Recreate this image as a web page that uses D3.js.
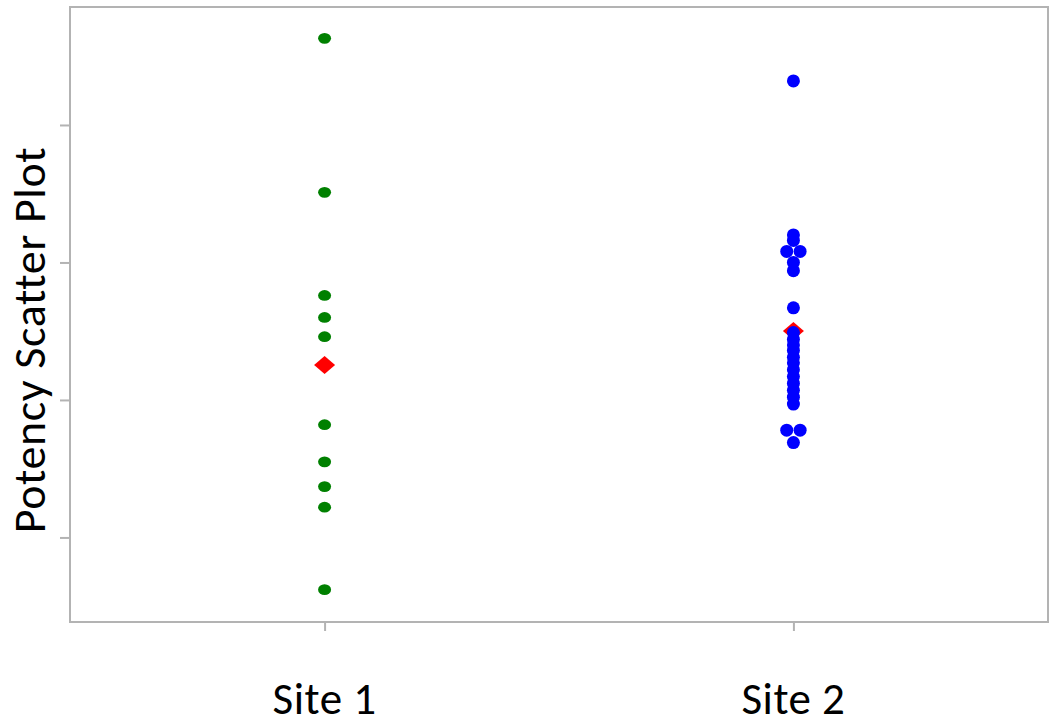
<!DOCTYPE html>
<html>
<head>
<meta charset="utf-8">
<script src="https://cdn.jsdelivr.net/npm/d3@7"></script>
<style>
  body { margin: 0; background: #fff; }
  text { font-family: Carlito, Calibri, Lato, sans-serif; fill: #000; }
</style>
</head>
<body>
<script>
// data (y values are on an unlabeled scale)
var sites = ["Site 1", "Site 2"];
var site1Values = [96.3, 85.1, 77.6, 76.0, 74.6, 68.2, 65.5, 63.7, 62.2, 56.2];
var site2Values = [93.2, 82.0, 81.6, 80.8, 80.8, 80.0, 79.4, 76.7,
                   74.9, 74.4, 74.0, 73.6, 73.1, 72.7, 72.2, 71.7, 71.2, 70.7, 70.2, 69.7,
                   67.8, 67.8, 66.9];
var yTicks = [60, 70, 80, 90];
var siteColors = ["#008000", "#0000ff"];

var width = 1064, height = 728;
var plotLeft = 70, plotRight = 1048, plotTop = 7, plotBottom = 622;

var svg = d3.select("body").append("svg")
            .attr("width", width)
            .attr("height", height);

var x = d3.scalePoint().domain(sites).range([plotLeft, plotRight]).padding(0.543);
var y = d3.scaleLinear().domain([53.85, 98.58]).range([plotBottom, plotTop]);

// frame
svg.append("rect")
    .attr("x", plotLeft).attr("y", plotTop)
    .attr("width", plotRight - plotLeft).attr("height", plotBottom - plotTop)
    .attr("fill", "none")
    .attr("stroke", "#b3b3b3")
    .attr("stroke-width", 2);

// axes, ticks only
var yAxis = svg.append("g")
    .attr("transform", "translate(" + plotLeft + ",0)")
    .call(d3.axisLeft(y).tickValues(yTicks).tickFormat("").tickSize(10));
var xAxis = svg.append("g")
    .attr("transform", "translate(0," + plotBottom + ")")
    .call(d3.axisBottom(x).tickFormat("").tickSize(9));
[yAxis, xAxis].forEach(function(a) {
    a.select(".domain").remove();
    a.selectAll("line").attr("stroke", "#b3b3b3").attr("stroke-width", 2);
});

// x labels
svg.selectAll("text.site")
    .data(sites)
    .enter().append("text")
        .attr("class", "site")
        .attr("x", function(d) { return x(d); })
        .attr("y", 714)
        .attr("text-anchor", "middle")
        .attr("font-size", 45)
        .attr("letter-spacing", 0.5)
        .text(function(d) { return d; });

// y title
svg.append("text")
    .attr("transform", "translate(45,340) rotate(-90)")
    .attr("text-anchor", "middle")
    .attr("font-size", 46)
    .attr("letter-spacing", 0.6)
    .text("Potency Scatter Plot");

var groups = [site1Values, site2Values];

// mean diamonds (drawn first, dots sit on top)
groups.forEach(function(vals, i) {
    var cx = x(sites[i]), cy = y(d3.mean(vals));
    svg.append("path")
        .attr("d", "M" + (cx - 10.5) + "," + cy + "L" + cx + "," + (cy - 9) +
                   "L" + (cx + 10.5) + "," + cy + "L" + cx + "," + (cy + 9) + "Z")
        .attr("fill", "#ff0000");
});

// dots; tied values are spread sideways
groups.forEach(function(vals, i) {
    var counts = {}, seen = {};
    vals.forEach(function(v) { counts[v] = (counts[v] || 0) + 1; });
    var pts = vals.map(function(v) {
        var k = seen[v] || 0; seen[v] = k + 1;
        return { v: v, off: (k - (counts[v] - 1) / 2) * 13.4 };
    });
    svg.selectAll("ellipse.grp" + i)
        .data(pts)
        .enter().append("ellipse")
            .attr("class", "grp" + i)
            .attr("cx", function(d) { return x(sites[i]) + d.off; })
            .attr("cy", function(d) { return y(d.v); })
            .attr("rx", 6.5)
            .attr("ry", i === 0 ? 5.4 : 6.5)
            .attr("fill", siteColors[i]);
});
</script>
</body>
</html>
